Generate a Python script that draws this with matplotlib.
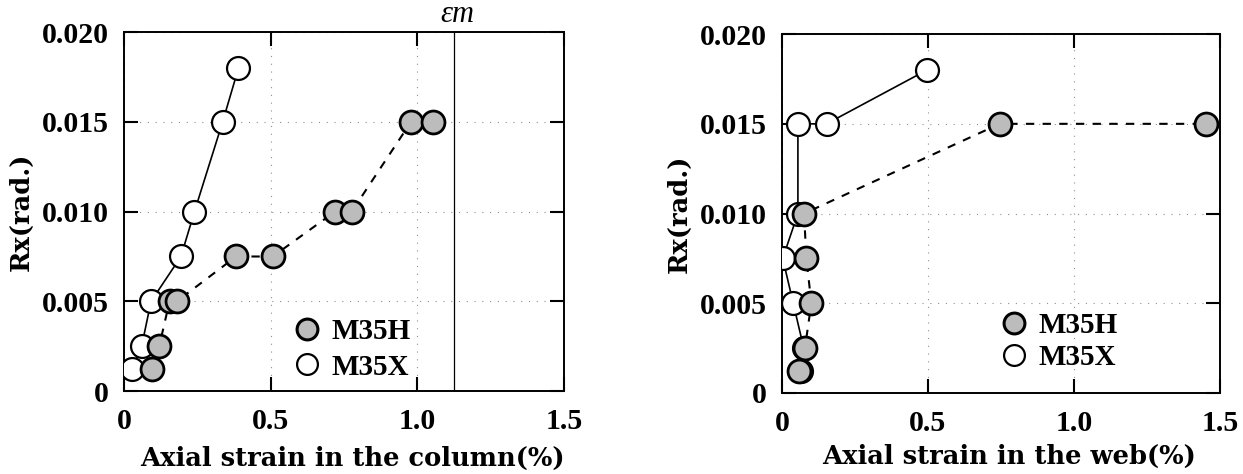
import matplotlib
matplotlib.use('Agg')
import matplotlib.pyplot as plt
from matplotlib.lines import Line2D

# rotation angle Rx (rad.) for each loading step
col_h_x = [0.094, 0.120, 0.155, 0.180, 0.382, 0.507, 0.719, 0.776, 0.978, 1.052]
col_h_y = [0.00125, 0.0025, 0.005, 0.005, 0.0075, 0.0075, 0.010, 0.010, 0.015, 0.015]
col_x_x = [0.027, 0.060, 0.092, 0.194, 0.240, 0.336, 0.390]
col_x_y = [0.00125, 0.0025, 0.005, 0.0075, 0.010, 0.015, 0.018]

web_h_x = [0.059, 0.079, 0.101, 0.084, 0.076, 0.746, 1.452]
web_h_y = [0.00125, 0.0025, 0.005, 0.0075, 0.010, 0.015, 0.015]
web_x_x = [0.067, 0.075, 0.039, 0.003, 0.055, 0.055, 0.153, 0.497]
web_x_y = [0.00125, 0.0025, 0.005, 0.0075, 0.010, 0.015, 0.015, 0.018]

eps_m = 1.125  # strain limit marked on the column plot

xticks = [0, 0.5, 1.0, 1.5]
xtick_labels = ['0', '0.5', '1.0', '1.5']
yticks = [0, 0.005, 0.010, 0.015, 0.020]
ytick_labels = ['0', '0.005', '0.010', '0.015', '0.020']

serif = ['Liberation Serif', 'DejaVu Serif']
label_font = {'family': 'DejaVu Serif', 'weight': 'bold', 'size': 18.5}
tick_font = {'family': serif, 'weight': 'bold', 'size': 21.5}
gray = '#bcbcbc'

fig = plt.figure(figsize=(12.43, 4.74), dpi=100)
ax1 = fig.add_axes([0.0998, 0.175, 0.354, 0.757])
ax2 = fig.add_axes([0.629, 0.171, 0.3524, 0.757])


def setup(ax, xlabel):
    ax.set_xlim(0, 1.5)
    ax.set_ylim(0, 0.020)
    ax.set_xticks(xticks)
    ax.set_xticklabels(xtick_labels, fontdict=tick_font)
    ax.set_yticks(yticks)
    ax.set_yticklabels(ytick_labels, fontdict=tick_font)
    ax.tick_params(direction='in', length=10, width=1.5, top=True, right=True)
    ax.tick_params(axis='x', pad=12)
    ax.tick_params(axis='y', pad=11)
    for s in ax.spines.values():
        s.set_linewidth(1.4)
    ax.grid(True, color='#909090', linestyle=(0, (1, 6)), linewidth=0.8)
    ax.set_xlabel(xlabel, fontdict=label_font, va='center')
    ax.set_ylabel('Rx(rad.)', fontdict=label_font, va='center')


def draw(ax, hx, hy, xx, xy):
    ax.plot(xx, xy, color='k', linestyle='-', linewidth=1.2, zorder=2)
    ax.plot(hx, hy, color='k', linestyle=(0, (4, 4)), linewidth=1.5, zorder=2)
    ax.plot(xx, xy, linestyle='none', marker='o', markersize=16.5,
            markerfacecolor='white', markeredgecolor='k', markeredgewidth=1.6, zorder=3)
    ax.plot(hx, hy, linestyle='none', marker='o', markersize=16.5,
            markerfacecolor=gray, markeredgecolor='k', markeredgewidth=2.0, zorder=4)


def add_legend(ax, x0, y0, spacing):
    handles = [
        Line2D([], [], linestyle='none', marker='o', markersize=15,
               markerfacecolor=gray, markeredgecolor='k', markeredgewidth=2.2),
        Line2D([], [], linestyle='none', marker='o', markersize=15,
               markerfacecolor='white', markeredgecolor='k', markeredgewidth=1.6),
    ]
    ax.legend(handles, ['M35H', 'M35X'], loc='center left', bbox_to_anchor=(x0, y0),
              frameon=False, borderpad=0, borderaxespad=0, handlelength=1.0,
              handletextpad=0.36, labelspacing=spacing,
              prop={'family': serif, 'weight': 'bold', 'size': 21})


# left: strain in the column
setup(ax1, 'Axial strain in the column(%)')
ax1.axvline(eps_m, color='k', linewidth=0.9, zorder=1)
ax1.text(eps_m + 0.012, 1.008, 'εm', transform=ax1.get_xaxis_transform(),
         ha='center', va='bottom', family=serif, style='italic', size=22)
draw(ax1, col_h_x, col_h_y, col_x_x, col_x_y)
add_legend(ax1, 0.382, 0.116, 0.28)
ax1.xaxis.set_label_coords(0.52, -0.187)
ax1.yaxis.set_label_coords(-0.234, 0.5)

# right: strain in the web
setup(ax2, 'Axial strain in the web(%)')
draw(ax2, web_h_x, web_h_y, web_x_x, web_x_y)
add_legend(ax2, 0.496, 0.143, 0.16)
ax2.xaxis.set_label_coords(0.518, -0.176)
ax2.yaxis.set_label_coords(-0.235, 0.5)

fig.savefig('out.png', dpi=100)
